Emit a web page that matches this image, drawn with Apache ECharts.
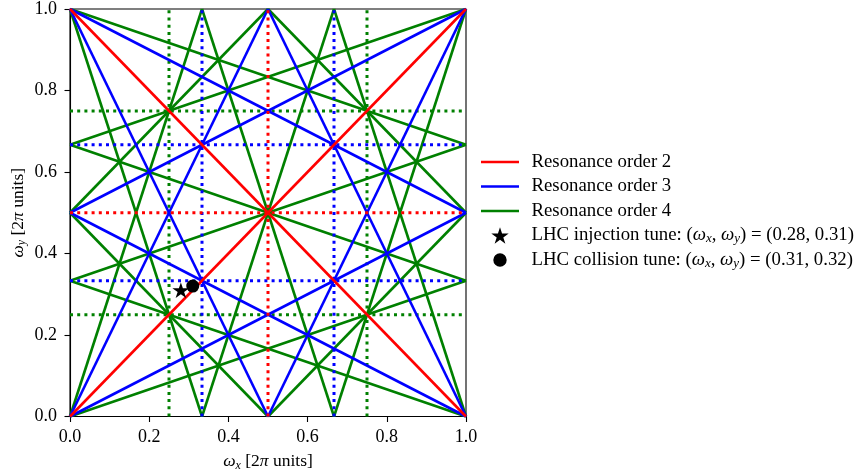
<!DOCTYPE html>
<html>
<head>
<meta charset="utf-8">
<script src="https://cdn.jsdelivr.net/npm/echarts@6/dist/echarts.min.js"></script>
<style>
  html, body { margin: 0; padding: 0; background: #ffffff; }
  #chart { width: 859px; height: 475px; }
</style>
</head>
<body>
<div id="chart"></div>
<script>
// Tune diagram: resonance lines m*wx + n*wy = p inside the unit square,
// each entry is one segment given by its two end points [wx, wy].

// order 2: |m| + |n| = 2
const order2Lines = [
  [[0, 1], [1, 0]],
  [[0, 0], [1, 1]]
];
const order2Dotted = [
  [[0.5, 0], [0.5, 1]],
  [[0, 0.5], [1, 0.5]]
];

// order 3: |m| + |n| = 3
const order3Lines = [
  [[0, 1], [0.5, 0]], [[0.5, 1], [1, 0]],
  [[0, 0.5], [1, 0]], [[0, 1], [1, 0.5]],
  [[0, 0], [0.5, 1]], [[0.5, 0], [1, 1]],
  [[0, 0], [1, 0.5]], [[0, 0.5], [1, 1]]
];
const order3Dotted = [
  [[1 / 3, 0], [1 / 3, 1]], [[2 / 3, 0], [2 / 3, 1]],
  [[0, 1 / 3], [1, 1 / 3]], [[0, 2 / 3], [1, 2 / 3]]
];

// order 4: |m| + |n| = 4
const order4Lines = [
  [[0, 1], [1 / 3, 0]], [[1 / 3, 1], [2 / 3, 0]], [[2 / 3, 1], [1, 0]],
  [[0, 1 / 3], [1, 0]], [[0, 2 / 3], [1, 1 / 3]], [[0, 1], [1, 2 / 3]],
  [[0, 0], [1 / 3, 1]], [[1 / 3, 0], [2 / 3, 1]], [[2 / 3, 0], [1, 1]],
  [[0, 0], [1, 1 / 3]], [[0, 1 / 3], [1, 2 / 3]], [[0, 2 / 3], [1, 1]],
  [[0, 0.5], [0.5, 0]], [[0.5, 1], [1, 0.5]],
  [[0.5, 0], [1, 0.5]], [[0, 0.5], [0.5, 1]]
];
const order4Dotted = [
  [[0.25, 0], [0.25, 1]], [[0.75, 0], [0.75, 1]],
  [[0, 0.25], [1, 0.25]], [[0, 0.75], [1, 0.75]]
];

// working points of the machine
const injectionTune = [0.28, 0.31];
const collisionTune = [0.31, 0.32];

const seriesNames = ['Resonance order 2', 'Resonance order 3', 'Resonance order 4',
                     'LHC injection tune', 'LHC collision tune'];
const seriesColors = ['#ff0000', '#0000ff', '#008000'];

const FONT = 'Liberation Serif';
const LW = 2.6;
const DOT_W = 3;
const DOTS = [3, 4.2];

const STAR = 'path://M0,-100L-22.45,-30.9L-95.11,-30.9L-36.33,11.8L-58.78,80.9L0,38.2L58.78,80.9L36.33,11.8L95.11,-30.9L22.45,-30.9Z';
const DOT_ICON = 'path://M-8,-8L-8.01,-8L-8,-8.01ZM8,8L8.01,8L8,8.01ZM-6.5,0A6.5,6.5,0,1,0,6.5,0A6.5,6.5,0,1,0,-6.5,0Z';
const LINE_ICON = 'path://M0,0H38V2.6H0Z';

function segmentSeries(segments, name, color, dotted, z) {
  return segments.map(function (seg) {
    return {
      type: 'line',
      name: name,
      data: seg,
      symbol: 'none',
      z: z,
      silent: true,
      animation: false,
      clip: true,
      lineStyle: { color: color, width: dotted ? DOT_W : LW, type: dotted ? DOTS : 'solid', cap: 'butt' },
      itemStyle: { color: color }
    };
  });
}

function tuneLabel(prefix, t) {
  return prefix + ': ({i|ω}{s|x}, {i|ω}{s|y}) = (' + t[0].toFixed(2) + ', ' + t[1].toFixed(2) + ')';
}

const mathRich = function (size) {
  return {
    i: { fontFamily: FONT, fontStyle: 'italic', fontSize: size, color: '#000', lineHeight: 20 },
    s: { fontFamily: FONT, fontStyle: 'italic', fontSize: Math.round(size * 0.7), color: '#000',
         lineHeight: 12, verticalAlign: 'bottom' }
  };
};

let series = [];
series = series.concat(segmentSeries(order4Dotted, seriesNames[2] + ' ', seriesColors[2], true, 2));
series = series.concat(segmentSeries(order4Lines, seriesNames[2], seriesColors[2], false, 2));
series = series.concat(segmentSeries(order3Dotted, seriesNames[1] + ' ', seriesColors[1], true, 3));
series = series.concat(segmentSeries(order3Lines, seriesNames[1], seriesColors[1], false, 3));
series = series.concat(segmentSeries(order2Dotted, seriesNames[0] + ' ', seriesColors[0], true, 4));
series = series.concat(segmentSeries(order2Lines, seriesNames[0], seriesColors[0], false, 4));
series.push({
  type: 'scatter', name: seriesNames[3], data: [injectionTune], z: 6,
  symbol: STAR, symbolSize: [17, 16.2], symbolKeepAspect: true,
  itemStyle: { color: '#000', opacity: 1 }, animation: false
});
series.push({
  type: 'scatter', name: seriesNames[4], data: [collisionTune], z: 6,
  symbol: 'circle', symbolSize: 13,
  itemStyle: { color: '#000', opacity: 1 }, animation: false
});

const axisCommon = {
  type: 'value', min: 0, max: 1, interval: 0.2,
  splitLine: { show: false },
  axisLine: { show: true, onZero: false, lineStyle: { color: '#000', width: 1.1 } },
  axisTick: { show: true, inside: false, length: 5.5, lineStyle: { color: '#000', width: 1.1 } },
  nameLocation: 'middle',
  nameTextStyle: { fontFamily: FONT, fontSize: 17.5, color: '#000', lineHeight: 20, rich: mathRich(17.5) }
};

const tickLabel = { fontFamily: FONT, fontSize: 18, color: '#000',
                    formatter: function (v) { return v.toFixed(1); } };

const chart = echarts.init(document.getElementById('chart'), null, { renderer: 'canvas' });
chart.setOption({
  backgroundColor: '#ffffff',
  animation: false,
  grid: {
    left: 70, top: 9, width: 396, height: 407.5,
    show: true, borderColor: '#000', borderWidth: 1.1, backgroundColor: 'transparent',
    outerBoundsMode: 'none'
  },
  xAxis: Object.assign({}, axisCommon, {
    name: '{i|ω}{s|x} [2{i|π} units]',
    nameGap: 35,
    axisLabel: Object.assign({ margin: 12 }, tickLabel)
  }),
  yAxis: Object.assign({}, axisCommon, {
    name: '{i|ω}{s|y} [2{i|π} units]',
    nameGap: 42,
    nameRotate: 90,
    axisLabel: Object.assign({ margin: 13 }, tickLabel)
  }),
  legend: {
    orient: 'vertical',
    left: 481, top: 152,
    padding: 0,
    itemWidth: 38, itemHeight: 16.5, itemGap: 4.5,
    selectedMode: false,
    data: [
      { name: seriesNames[0], icon: LINE_ICON },
      { name: seriesNames[1], icon: LINE_ICON },
      { name: seriesNames[2], icon: LINE_ICON },
      { name: seriesNames[3], icon: STAR },
      { name: seriesNames[4], icon: DOT_ICON }
    ],
    formatter: function (name) {
      if (name === seriesNames[3]) return tuneLabel(name, injectionTune);
      if (name === seriesNames[4]) return tuneLabel(name, collisionTune);
      return name;
    },
    textStyle: {
      fontFamily: FONT, fontSize: 18.8, color: '#000', lineHeight: 20,
      padding: [0, 0, 0, 7.5],
      rich: mathRich(18.8)
    }
  },
  series: series
});
</script>
</body>
</html>
